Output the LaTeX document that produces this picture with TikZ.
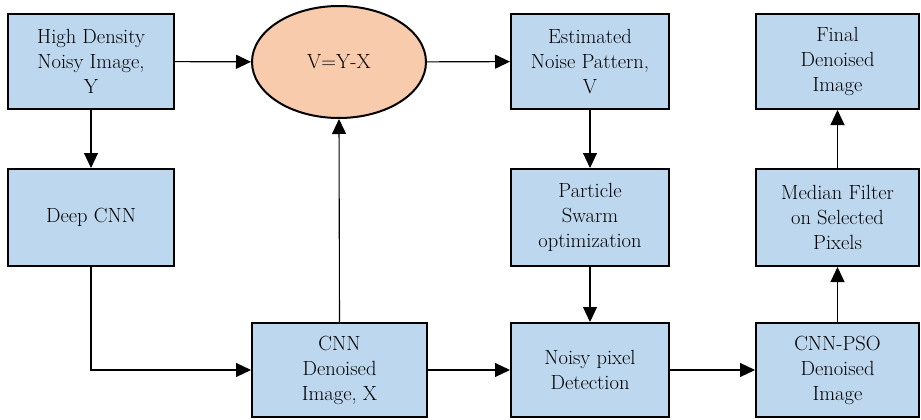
\documentclass[tikz,border=0pt]{standalone}
\usepackage{tikz}
\usetikzlibrary{arrows.meta,shapes.geometric}

\definecolor{boxblue}{HTML}{BDD7EE}
\definecolor{sumpeach}{HTML}{F8CBAD}

\begin{document}
\begin{tikzpicture}[x=1pt,y=-1pt,>={Triangle[length=15pt,width=14pt]},
  block/.style={draw=black,line width=2pt,fill=boxblue,align=center,
    inner sep=0pt,font=\fontsize{20.5}{25}\selectfont},
  sumnode/.style={ellipse,draw=black,line width=2pt,fill=sumpeach,
    inner sep=0pt,font=\fontsize{20.5}{25}\selectfont},
  flow/.style={->,line width=1.1pt}]
\useasboundingbox (0,0) rectangle (921,420);

% top row
\node[block,minimum width=166pt,minimum height=95pt] (noisy) at (91,61.5)
  {High Density\\Noisy Image,\\Y};
\node[sumnode,minimum width=174pt,minimum height=112pt] (diff) at (339,62) {V=Y-X};
\node[block,minimum width=158pt,minimum height=95pt] (pattern) at (590,61.5)
  {Estimated\\Noise Pattern,\\V};
\node[block,minimum width=163pt,minimum height=95pt] (final) at (837.5,61.5)
  {Final\\Denoised\\Image};

% middle row
\node[block,minimum width=166pt,minimum height=97pt] (cnn) at (91,217.5) {Deep CNN};
\node[block,minimum width=158pt,minimum height=97pt] (pso) at (590,217.5)
  {Particle\\Swarm\\optimization};
\node[block,minimum width=163pt,minimum height=97pt] (median) at (837.5,217.5)
  {Median Filter\\on Selected\\Pixels};

% bottom row
\node[block,minimum width=175pt,minimum height=94pt] (cnnout) at (339.5,370)
  {CNN\\Denoised\\Image, X};
\node[block,minimum width=158pt,minimum height=94pt] (detect) at (590,370)
  {Noisy pixel\\Detection};
\node[block,minimum width=163pt,minimum height=94pt] (psoout) at (837.5,370)
  {CNN-PSO\\Denoised\\Image};

\draw[flow] (noisy) -- (diff);
\draw[flow] (diff) -- (pattern);
\draw[flow] (noisy) -- (cnn);
\draw[flow] (cnn.south) |- (cnnout.west);
\draw[flow] (cnnout.north) -- (diff.south);
\draw[flow] (pattern) -- (pso);
\draw[flow] (pso) -- (detect);
\draw[flow] (cnnout) -- (detect);
\draw[flow] (detect) -- (psoout);
\draw[flow] (psoout) -- (median);
\draw[flow] (median) -- (final);
\end{tikzpicture}
\end{document}
